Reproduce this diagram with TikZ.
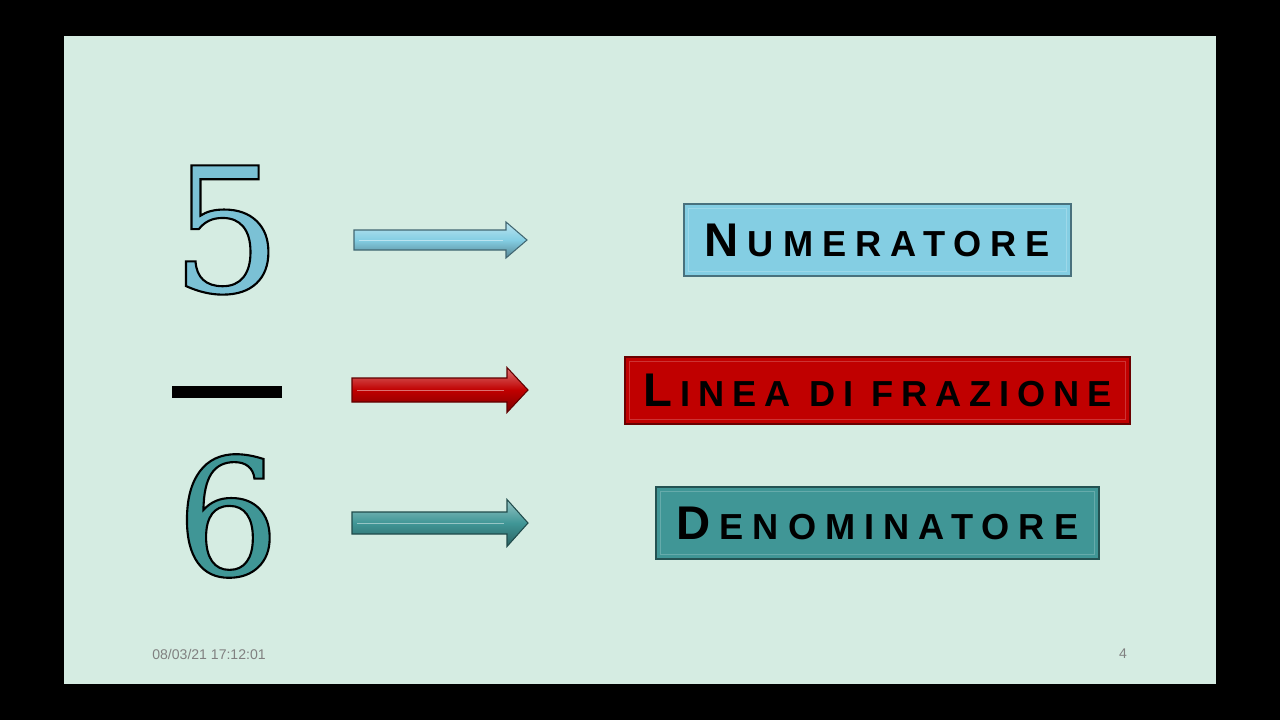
\documentclass[tikz,border=0pt]{standalone}
\usepackage{fontspec}
\usetikzlibrary{calc}
\newfontfamily\labelfont{Liberation Sans}[LetterSpace=25]
\newfontfamily\footfont{Liberation Sans}
\newfontfamily\digitfont{DejaVu Serif}
\definecolor{slide}{HTML}{D5ECE2}
\definecolor{sky}{HTML}{84CEE3}
\definecolor{fivec}{HTML}{7BC1D5}
\definecolor{redc}{HTML}{C00000}
\definecolor{tealc}{HTML}{409696}
\tikzset{
  lbl/.style={draw=#1!55!black,fill=#1,line width=0.8pt,inner sep=0pt,text=black,
    font=\labelfont\bfseries,
    path picture={\draw[#1!80!white,line width=0.5pt]
      ([shift={(2.5pt,-2.5pt)}]path picture bounding box.north west) rectangle
      ([shift={(-2.5pt,2.5pt)}]path picture bounding box.south east);}},
  digit/.style={inner sep=0pt,font=\digitfont\fontsize{#1}{#1}\selectfont},
  foot/.style={inner sep=0pt,text=black!50,font=\footfont\fontsize{8}{9}\selectfont},
}
% first letter large, the rest as small capitals
\newcommand\smcp[2]{{\fontsize{26.9}{30}\selectfont #1}\kern5pt{\fontsize{20.6}{24}\selectfont #2}}
% coloured glyph with a black outline
\newcommand\outlined[2]{{\color{#1}\special{pdf:literal direct 0 G 1.2 w 2 Tr}#2\special{pdf:literal direct 0 Tr}}}
% block arrow: colour, from, to, half shaft, half head
\newcommand\fatarrow[5]{%
  \draw[top color=#1!55!white,bottom color=#1!65!black,middle color=#1,
        draw=#1!50!black,line width=0.6pt,line join=miter]
    ($(#2)+(0,#4)$) -- ($(#3)+(-21,#4)$) -- ($(#3)+(-21,#5)$) -- (#3)
    -- ($(#3)+(-21,-#5)$) -- ($(#3)+(-21,-#4)$) -- ($(#2)+(0,-#4)$) -- cycle;
  \draw[#1!55!white,line width=0.4pt] ($(#2)+(5,0)$) -- ($(#3)+(-24,0)$);}

\begin{document}
\begin{tikzpicture}[x=0.02cm,y=-0.02cm]
  \fill[black] (0,0) rectangle (1280,720);
  \fill[slide] (64,36) rectangle (1216,684);
  % the fraction
  \node[digit=99] (five) at (226.5,230) {\outlined{fivec}{5}};
  \node[fill=black,minimum width=2.2cm,minimum height=0.24cm,inner sep=0pt] (bar) at (227,392) {};
  \node[digit=93] (six) at (228,516) {\outlined{tealc}{6}};
  % names of the parts
  \node[lbl=sky,minimum width=7.74cm,minimum height=1.44cm] (num) at (877.5,240) {\smcp{N}{UMERATORE}};
  \node[lbl=redc,minimum width=10.1cm,minimum height=1.34cm] (lin) at (877.5,390.5) {\addfontfeature{LetterSpace=22}\smcp{L}{INEA DI FRAZIONE}};
  \node[lbl=tealc,minimum width=8.86cm,minimum height=1.44cm] (den) at (877.5,523) {\smcp{D}{ENOMINATORE}};
  % arrows
  \coordinate (a1s) at (354,240); \coordinate (a1e) at (527,240);
  \coordinate (a2s) at (352,390); \coordinate (a2e) at (528,390);
  \coordinate (a3s) at (352,523); \coordinate (a3e) at (528,523);
  \fatarrow{sky}{a1s}{a1e}{10}{18}
  \fatarrow{redc}{a2s}{a2e}{12}{22.5}
  \fatarrow{tealc}{a3s}{a3e}{11}{23.5}
  % footer
  \node[foot,anchor=west] (date) at (152,654) {08/03/21 17:12:01};
  \node[foot] (page) at (1123,654) {4};
\end{tikzpicture}
\end{document}
